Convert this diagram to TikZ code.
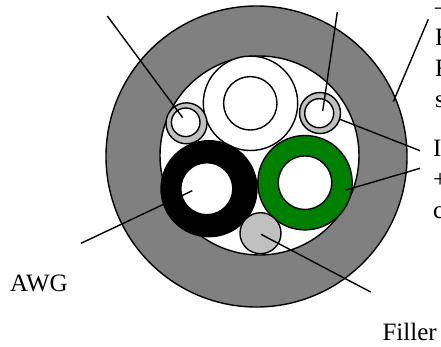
\documentclass[tikz,border=0pt]{standalone}
\usepackage{fontspec}
\setmainfont{Liberation Serif}
\definecolor{jacket}{HTML}{808080}
\definecolor{lightring}{HTML}{C0C0C0}
\definecolor{greenring}{HTML}{008000}
\tikzset{
  disc/.style={circle,draw=black,line width=1.4pt,inner sep=0pt,outer sep=0pt},
  lead/.style={draw=black,line width=1.4pt},
  lab/.style={anchor=base west,inner sep=0pt,outer sep=0pt,font=\fontsize{25}{30}\selectfont,text=black}
}
\begin{document}
\begin{tikzpicture}[x=1pt,y=-1pt]
\path[use as bounding box,fill=white] (0,0) rectangle (441,346);
\clip (0,0) rectangle (441,346);
\node[disc,fill=jacket,minimum size=301pt] (jacket) at (256.5,156.5) {};
\node[disc,fill=white,minimum size=199pt] (core) at (259.5,155.5) {};
\node[disc,fill=white,minimum size=94.4pt] (big) at (250.5,103.3) {};
\node[disc,fill=white,minimum size=53.4pt] (bigin) at (250.3,103.3) {};
\node[disc,fill=lightring,minimum size=41pt] (ringl) at (186.5,123.3) {};
\node[disc,fill=white,minimum size=28.6pt] (ringlin) at (185.7,122.3) {};
\node[disc,fill=lightring,minimum size=41pt] (ringr) at (320,113) {};
\node[disc,fill=white,minimum size=29pt] (ringrin) at (319.2,113.2) {};
\node[disc,fill=black,minimum size=96pt] (blk) at (209,188.7) {};
\node[disc,fill=white,minimum size=52pt] (blkin) at (206.8,188.7) {};
\node[disc,fill=greenring,minimum size=94.4pt] (grn) at (305,182.7) {};
\node[disc,fill=white,minimum size=53.6pt] (grnin) at (305,182.7) {};
\node[disc,fill=lightring,minimum size=41pt] (fill) at (260.5,233.2) {};

\coordinate (a0) at (107.3,16);   \coordinate (a1) at (182.7,117.7);
\coordinate (b0) at (337.3,12);   \coordinate (b1) at (322.7,111);
\coordinate (c0) at (428.3,19.3); \coordinate (c1) at (393.3,101.7);
\coordinate (d0) at (420,150.7);  \coordinate (d1) at (340,119.3);
\coordinate (e0) at (420,168.3);  \coordinate (e1) at (346,190);
\coordinate (f0) at (81,243.3);   \coordinate (f1) at (192.3,190.7);
\coordinate (g0) at (370.7,292);  \coordinate (g1) at (261,234.3);
\draw[lead] (a0) -- (a1);
\draw[lead] (b0) -- (b1);
\draw[lead] (c0) -- (c1);
\draw[lead] (d0) -- (d1);
\draw[lead] (e0) -- (e1);
\draw[lead] (f0) -- (f1);
\draw[lead] (g0) -- (g1);

\node[lab] (t1) at (435,14) {–};
\node[lab] (t2) at (435,45) {F};
\node[lab] (t3) at (435,76) {F};
\node[lab] (t4) at (435,107) {s};
\node[lab] (t5) at (433,156) {I};
\node[lab] (t6) at (433,187) {+};
\node[lab] (t7) at (433,218) {c};
\node[lab] (awg) at (10,291.7) {AWG};
\node[lab] (filler) at (382.5,340.5) {Filler};
\end{tikzpicture}
\end{document}
